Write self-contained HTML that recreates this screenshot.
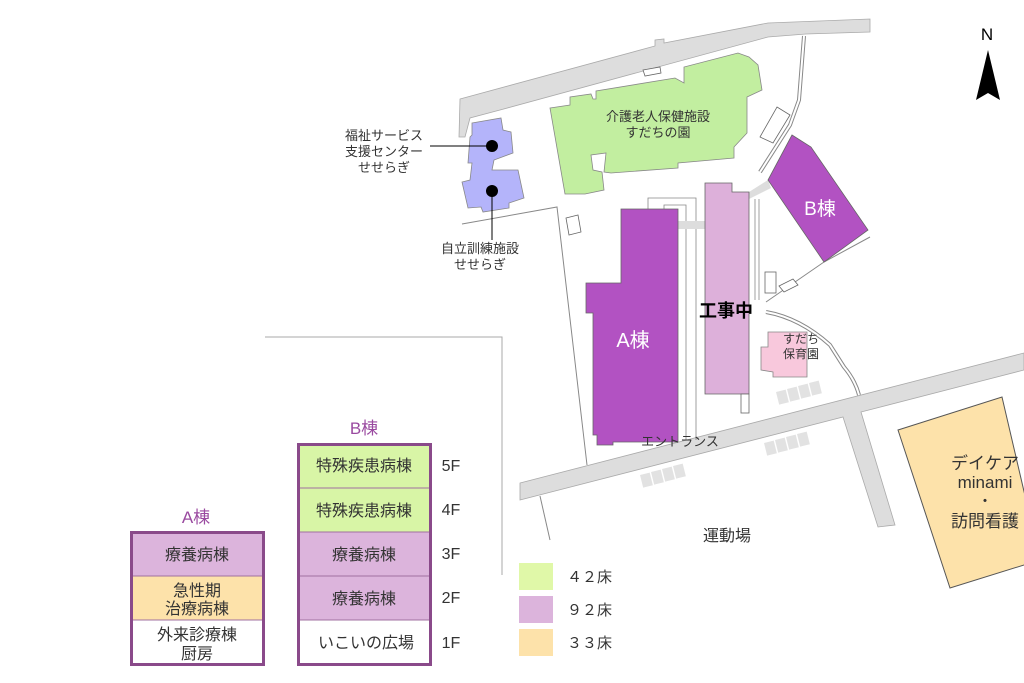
<!DOCTYPE html>
<html><head><meta charset="utf-8"><style>
html,body{margin:0;padding:0;background:#fff;}
svg{display:block;}
text{font-family:"Liberation Sans","Noto Sans CJK JP",sans-serif;fill:#333;}
</style></head><body>
<svg width="1024" height="683" viewBox="0 0 1024 683" xmlns="http://www.w3.org/2000/svg">
<!-- top road -->
<polygon points="460,99 655,46 655,40 664,39 664,43 768,23 870,19 870,32 806,34 768,37 500,110 470,118 465,137 459,137" fill="#ddd" stroke="#aaa" stroke-width="0.8"/>
<!-- path from top road -->
<polyline points="804,36 799,100 790,125 760,172" fill="none" stroke="#888" stroke-width="4"/>
<polyline points="804,36 799,100 790,125 760,172" fill="none" stroke="#fff" stroke-width="2"/>
<polygon points="777,107 790,115 773,143 760,137" fill="#fff" stroke="#666" stroke-width="0.8"/>
<polygon points="643,70 660,67 661,73 645,76" fill="#fff" stroke="#666" stroke-width="0.8"/>
<!-- site boundary lines -->
<polyline points="462,224 557,207 587,465" fill="none" stroke="#888" stroke-width="1"/>
<polyline points="870,237 824,262 766,302" fill="none" stroke="#888" stroke-width="1"/>
<path d="M766,312 Q800,318 830,345 L844,367 Q855,380 859,395" fill="none" stroke="#888" stroke-width="4"/>
<path d="M766,312 Q800,318 830,345 L844,367 Q855,380 859,395" fill="none" stroke="#fff" stroke-width="2"/>
<polyline points="265,337 502,337 502,575" fill="none" stroke="#aaa" stroke-width="1"/>
<polygon points="566,218 578,215 581,232 569,235" fill="#fff" stroke="#666" stroke-width="0.8"/>
<rect x="765" y="272" width="11" height="21" fill="#fff" stroke="#666" stroke-width="0.8"/>
<polygon points="779,286 793,279 798,285 784,292" fill="#fff" stroke="#666" stroke-width="0.8"/>
<!-- lower road -->
<polygon points="520,483 1024,353 1024,370 861,412 895,525 878,527 843,417 520,500" fill="#ddd" stroke="#aaa" stroke-width="0.8"/>
<line x1="540" y1="496" x2="550" y2="540" stroke="#888" stroke-width="1"/>
<!-- parking -->
<g fill="#e2e2e2">
<rect x="776" y="392" width="10" height="13" transform="rotate(-14 776 392)"/><rect x="787" y="389" width="10" height="13" transform="rotate(-14 787 389)"/><rect x="798" y="386" width="10" height="13" transform="rotate(-14 798 386)"/><rect x="809" y="383" width="10" height="13" transform="rotate(-14 809 383)"/>
<rect x="764" y="443" width="10" height="13" transform="rotate(-14 764 443)"/><rect x="775" y="440" width="10" height="13" transform="rotate(-14 775 440)"/><rect x="786" y="437" width="10" height="13" transform="rotate(-14 786 437)"/><rect x="797" y="434" width="10" height="13" transform="rotate(-14 797 434)"/>
<rect x="640" y="475" width="10" height="13" transform="rotate(-14 640 475)"/><rect x="651" y="472" width="10" height="13" transform="rotate(-14 651 472)"/><rect x="662" y="469" width="10" height="13" transform="rotate(-14 662 469)"/><rect x="673" y="466" width="10" height="13" transform="rotate(-14 673 466)"/>
</g>
<!-- green building -->
<polygon points="550,108 570,105 570,97 591,94 593,99 596,99 596,91 675,78 684,83 684,67 738,53 749,57 758,65 762,90 747,97 747,133 734,147 734,158 678,163 678,168 611,173 604,172 606,153 591,155 593,170 602,172 604,190 585,194 565,194" fill="#c2eea0" stroke="#888" stroke-width="0.8"/>
<text x="658" y="121" font-size="13" text-anchor="middle">介護老人保健施設</text>
<text x="658" y="137" font-size="13" text-anchor="middle">すだちの園</text>
<!-- blue building -->
<polygon points="472,123 501,118 503,130 511,132 513,153 494,160 492,170 518,170 524,198 509,203 509,208 483,212 481,207 468,208 462,182 470,180 472,163 468,163 470,137 472,135" fill="#b4b4fa" stroke="#888" stroke-width="0.8"/>
<circle cx="492" cy="146" r="6" fill="#000"/><circle cx="492" cy="191" r="6" fill="#000"/>
<line x1="430" y1="146" x2="492" y2="146" stroke="#000" stroke-width="1"/>
<line x1="492" y1="191" x2="492" y2="240" stroke="#000" stroke-width="1"/>
<text x="423" y="140" font-size="13" text-anchor="end">福祉サービス</text>
<text x="423" y="156" font-size="13" text-anchor="end">支援センター</text>
<text x="410" y="172" font-size="13" text-anchor="end">せせらぎ</text>
<text x="480" y="253" font-size="13" text-anchor="middle">自立訓練施設</text>
<text x="480" y="269" font-size="13" text-anchor="middle">せせらぎ</text>
<!-- corridors -->
<polyline points="648,209 648,198 696,198 696,440" fill="none" stroke="#888" stroke-width="0.8"/>
<polyline points="664,209 664,205 686,205 686,440" fill="none" stroke="#888" stroke-width="0.8"/>
<rect x="678" y="221" width="27" height="8" fill="#ddd"/>
<polygon points="749,192 768,180 771,188 749,199" fill="#ddd"/>
<line x1="755" y1="199" x2="755" y2="300" stroke="#888" stroke-width="0.8"/>
<line x1="759" y1="199" x2="759" y2="300" stroke="#888" stroke-width="0.8"/>
<!-- A building -->
<polygon points="621,209 678,209 678,442 613,442 613,445 597,445 597,435 593,435 593,313 586,313 586,283 621,283" fill="#b252c2" stroke="#666" stroke-width="0.8"/>
<text x="633" y="347" font-size="20" fill="#fff" style="fill:#fff" text-anchor="middle">A棟</text>
<!-- construction -->
<polygon points="705,183 732,183 732,192 749,192 749,394 705,394" fill="#ddb0da" stroke="#666" stroke-width="0.8"/>
<rect x="741" y="394" width="8" height="19" fill="#fff" stroke="#666" stroke-width="0.8"/>
<text x="726" y="317" font-size="18" font-weight="bold" text-anchor="middle" style="fill:#000">工事中</text>
<!-- B building -->
<polygon points="792,135 811,147 868,230 824,262 768,180" fill="#b252c2" stroke="#666" stroke-width="0.8"/>
<text x="820" y="215" font-size="19" style="fill:#fff" text-anchor="middle">B棟</text>
<!-- nursery -->
<polygon points="768,332 807,332 807,377 773,377 773,372 761,370 761,347 768,347" fill="#f8c8dc" stroke="#888" stroke-width="0.8"/>
<text x="801" y="343" font-size="12" text-anchor="middle">すだち</text>
<text x="801" y="358" font-size="12" text-anchor="middle">保育園</text>
<text x="680" y="446" font-size="13" text-anchor="middle">エントランス</text>
<text x="727" y="541" font-size="16" text-anchor="middle">運動場</text>
<!-- daycare -->
<polygon points="898,430 1002,397 1040,560 950,588" fill="#fde2aa" stroke="#555" stroke-width="1"/>
<text x="985" y="469" font-size="17" text-anchor="middle">デイケア</text>
<text x="985" y="488" font-size="17" text-anchor="middle">minami</text>
<text x="985" y="506" font-size="15" text-anchor="middle">・</text>
<text x="985" y="527" font-size="17" text-anchor="middle">訪問看護</text>
<!-- north -->
<text x="987" y="40" font-size="17" text-anchor="middle" style="fill:#000">N</text>
<polygon points="988,50 976,100 988,93 1000,100" fill="#000"/>
<!-- A table -->
<text x="196" y="523" font-size="17" text-anchor="middle" style="fill:#9a4aa0">A棟</text>
<rect x="130" y="531" width="135" height="45" fill="#dcb4dc"/>
<rect x="130" y="576" width="135" height="44" fill="#fde2aa"/>
<rect x="130" y="620" width="135" height="45" fill="#fff"/>
<line x1="130" y1="576" x2="265" y2="576" stroke="#a070a0"/>
<line x1="130" y1="620" x2="265" y2="620" stroke="#a070a0"/>
<rect x="131.5" y="532.5" width="132" height="132" fill="none" stroke="#8a4a8a" stroke-width="3"/>
<text x="197" y="560" font-size="16" text-anchor="middle">療養病棟</text>
<text x="197" y="596" font-size="16" text-anchor="middle">急性期</text>
<text x="197" y="614" font-size="16" text-anchor="middle">治療病棟</text>
<text x="197" y="640" font-size="16" text-anchor="middle">外来診療棟</text>
<text x="197" y="659" font-size="16" text-anchor="middle">厨房</text>
<!-- B table -->
<text x="364" y="434" font-size="17" text-anchor="middle" style="fill:#9a4aa0">B棟</text>
<rect x="297" y="443" width="135" height="89" fill="#d8f5a6"/>
<rect x="297" y="532" width="135" height="88" fill="#dcb4dc"/>
<rect x="297" y="620" width="135" height="45" fill="#fff"/>
<g stroke="#a070a0"><line x1="297" y1="488" x2="432" y2="488"/><line x1="297" y1="532" x2="432" y2="532"/><line x1="297" y1="576" x2="432" y2="576"/><line x1="297" y1="620" x2="432" y2="620"/></g>
<rect x="298.5" y="444.5" width="132" height="220" fill="none" stroke="#8a4a8a" stroke-width="3"/>
<text x="364" y="471" font-size="16" text-anchor="middle">特殊疾患病棟</text>
<text x="364" y="516" font-size="16" text-anchor="middle">特殊疾患病棟</text>
<text x="364" y="560" font-size="16" text-anchor="middle">療養病棟</text>
<text x="364" y="604" font-size="16" text-anchor="middle">療養病棟</text>
<text x="366" y="648" font-size="16" text-anchor="middle">いこいの広場</text>
<text x="451" y="471" font-size="16" text-anchor="middle">5F</text>
<text x="451" y="515" font-size="16" text-anchor="middle">4F</text>
<text x="451" y="559" font-size="16" text-anchor="middle">3F</text>
<text x="451" y="603" font-size="16" text-anchor="middle">2F</text>
<text x="451" y="648" font-size="16" text-anchor="middle">1F</text>
<!-- legend -->
<rect x="519" y="563" width="34" height="27" fill="#e0f8a8"/>
<rect x="519" y="596" width="34" height="27" fill="#dcb4dc"/>
<rect x="519" y="629" width="34" height="27" fill="#fde2aa"/>
<text x="567" y="582" font-size="15">４２床</text>
<text x="567" y="615" font-size="15">９２床</text>
<text x="567" y="648" font-size="15">３３床</text>
</svg>
</body></html>
